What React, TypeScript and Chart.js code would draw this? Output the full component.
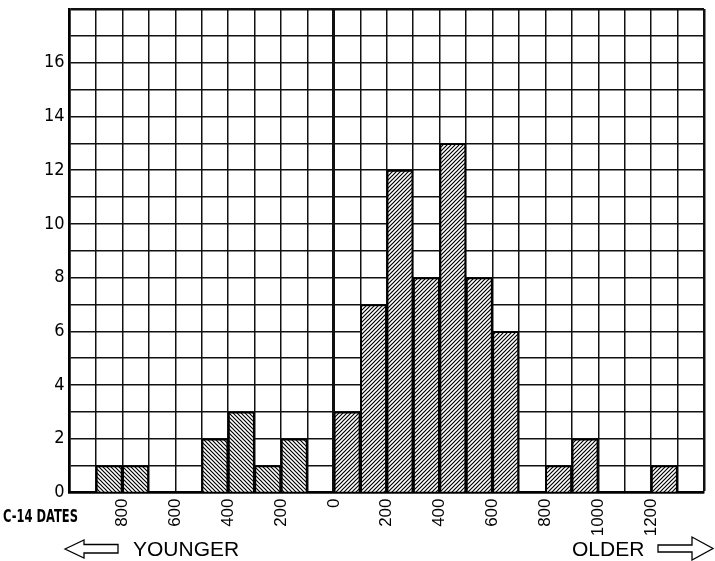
import React, { useEffect, useRef } from "react";
import { Chart, registerables } from "chart.js";

Chart.register(...registerables);

// Bins: start year of each 100-year bin (negative = younger side of the scale)
const binStarts = [-900, -800, -500, -400, -300, -200, 0, 100, 200, 300, 400, 500, 600, 800, 900, 1200];
const counts = [1, 1, 2, 3, 1, 2, 3, 7, 12, 8, 13, 8, 6, 1, 2, 1];
const binWidth = 100;
const xMin = -1000;
const xMax = 1400;
const yMin = 0;
const yMax = 18;
const xTickLabels = [-800, -600, -400, -200, 0, 200, 400, 600, 800, 1000, 1200];
const yTickLabels = [0, 2, 4, 6, 8, 10, 12, 14, 16];
const axisTitle = "C-14 DATES";
const leftCaption = "YOUNGER";
const rightCaption = "OLDER";

const NARROW = '"Liberation Sans Narrow", "DejaVu Sans Condensed", "Liberation Sans", sans-serif';
const SANS = '"Liberation Sans", Arial, Helvetica, sans-serif';

function makeHatch(ctx: CanvasRenderingContext2D, dir: number): CanvasPattern | string {
  const s = 4;
  const c = document.createElement("canvas");
  c.width = s;
  c.height = s;
  const g = c.getContext("2d");
  if (!g) return "#888";
  g.fillStyle = "#fff";
  g.fillRect(0, 0, s, s);
  g.strokeStyle = "#000";
  g.lineWidth = 1.2;
  g.beginPath();
  if (dir === 1) {
    g.moveTo(-1, s + 1);
    g.lineTo(s + 1, -1);
    g.moveTo(-1, 1);
    g.lineTo(1, -1);
    g.moveTo(s - 1, s + 1);
    g.lineTo(s + 1, s - 1);
  } else {
    g.moveTo(-1, -1);
    g.lineTo(s + 1, s + 1);
    g.moveTo(-1, s - 1);
    g.lineTo(1, s + 1);
    g.moveTo(s - 1, -1);
    g.lineTo(s + 1, 1);
  }
  g.stroke();
  return ctx.createPattern(c, "repeat") || "#888";
}

const captionPlugin = {
  id: "captions",
  afterDraw(chart: any) {
    const ctx: CanvasRenderingContext2D = chart.ctx;
    ctx.save();
    ctx.fillStyle = "#000";
    ctx.textAlign = "left";
    ctx.textBaseline = "alphabetic";
    ctx.font = `bold 17px ${NARROW}`;
    const w = ctx.measureText(axisTitle).width || 75;
    ctx.save();
    ctx.translate(3, 522);
    ctx.scale(75 / w, 1);
    ctx.fillText(axisTitle, 0, 0);
    ctx.restore();

    ctx.font = `21px ${SANS}`;
    ctx.fillText(leftCaption, 133, 556);
    ctx.fillText(rightCaption, 572, 556);

    ctx.strokeStyle = "#000";
    ctx.lineWidth = 1.3;
    ctx.lineJoin = "miter";
    // left hollow arrow
    ctx.beginPath();
    ctx.moveTo(65, 549);
    ctx.lineTo(84, 540);
    ctx.lineTo(84, 544.5);
    ctx.lineTo(118, 544.5);
    ctx.lineTo(118, 553);
    ctx.lineTo(84, 553);
    ctx.lineTo(84, 558);
    ctx.closePath();
    ctx.stroke();
    // right hollow arrow
    ctx.beginPath();
    ctx.moveTo(658, 545);
    ctx.lineTo(692, 545);
    ctx.lineTo(692, 537);
    ctx.lineTo(713, 548.5);
    ctx.lineTo(692, 560);
    ctx.lineTo(692, 552);
    ctx.lineTo(658, 552);
    ctx.closePath();
    ctx.stroke();
    ctx.restore();
  },
};

export default function App() {
  const canvasRef = useRef<HTMLCanvasElement | null>(null);

  useEffect(() => {
    const canvas = canvasRef.current;
    if (!canvas) return;
    const ctx = canvas.getContext("2d");
    if (!ctx) return;
    const hatchYounger = makeHatch(ctx, -1);
    const hatchOlder = makeHatch(ctx, 1);

    const data = binStarts.map((s, i) => ({ x: s + binWidth / 2, y: counts[i] }));
    const bg = binStarts.map((s) => (s < 0 ? hatchYounger : hatchOlder));

    const chart = new Chart(ctx, {
      type: "bar",
      data: {
        datasets: [
          {
            data: data as any,
            backgroundColor: bg as any,
            borderColor: "#000",
            borderWidth: 2,
            barPercentage: 1,
            categoryPercentage: 1,
          },
        ],
      },
      plugins: [captionPlugin],
      options: {
        animation: false,
        responsive: true,
        maintainAspectRatio: false,
        layout: { padding: { top: 9, right: 11, left: 0, bottom: 0 } },
        plugins: { legend: { display: false }, tooltip: { enabled: false } },
        scales: {
          x: {
            type: "linear",
            min: xMin,
            max: xMax,
            offset: false,
            afterFit: (scale: any) => {
              scale.height = 68.5;
              scale.paddingLeft = 0;
              scale.paddingRight = 0;
            },
            grid: {
              offset: false,
              color: "#111",
              drawTicks: false,
              lineWidth: (c: any) => {
                const v = c.tick ? c.tick.value : null;
                if (v === 0) return 3;
                if (v === xMax) return 2.5;
                return 1.5;
              },
            },
            border: { color: "#000", width: 2.5 },
            ticks: {
              stepSize: binWidth,
              autoSkip: false,
              maxRotation: 90,
              minRotation: 90,
              padding: 6,
              color: "#000",
              font: { family: SANS, size: 17 },
              callback: (v: any) => (xTickLabels.includes(Number(v)) ? String(Math.abs(Number(v))) : ""),
            },
          },
          y: {
            type: "linear",
            min: yMin,
            max: yMax,
            afterFit: (scale: any) => {
              scale.width = 69.5;
              scale.paddingTop = 0;
              scale.paddingBottom = 0;
            },
            grid: {
              color: "#111",
              drawTicks: false,
              lineWidth: (c: any) => {
                const v = c.tick ? c.tick.value : null;
                if (v === yMax) return 2.5;
                return 1.5;
              },
            },
            border: { color: "#000", width: 2.5 },
            ticks: {
              stepSize: 1,
              autoSkip: false,
              padding: 5,
              color: "#000",
              font: { family: NARROW, size: 18 },
              callback: (v: any) => (yTickLabels.includes(Number(v)) ? String(v) : ""),
            },
          },
        },
      },
    });
    return () => chart.destroy();
  }, []);

  return (
    <div
      style={{
        position: "fixed",
        left: 0,
        top: 0,
        width: 715,
        height: 561,
        background: "#fff",
      }}
    >
      <canvas ref={canvasRef} />
    </div>
  );
}
